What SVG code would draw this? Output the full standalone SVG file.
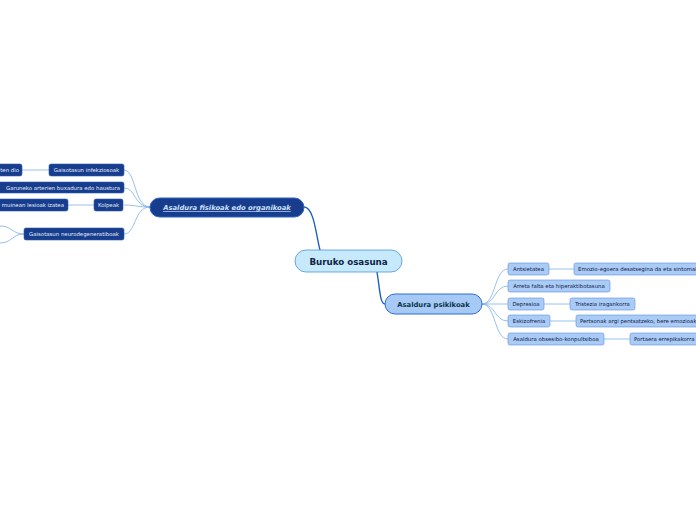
<svg xmlns="http://www.w3.org/2000/svg" width="696" height="520" viewBox="0 0 696 520">
<style>
text{font-family:"DejaVu Sans","Liberation Sans",sans-serif}
.c{fill:none;stroke:#7eb0e8;stroke-width:0.8}
.m{fill:none;stroke:#1f5fc4;stroke-width:1.4}
.dn rect{fill:#173d8c;stroke:#2a5bb5;stroke-width:0.6}
.dn text{fill:#e6eefc;font-size:5.4px}
.ln rect{fill:#a9cbf6;stroke:#5a92e2;stroke-width:0.6}
.ln text{fill:#10204a;font-size:5.4px}
</style>
<rect width="696" height="520" fill="#ffffff"/>
<g id="connectors">
<path class="m" d="M304,207 C314,207 316,235 320,250"/>
<path class="m" d="M377,272 C380,290 380,304 385,304"/>
<path class="c" d="M150,207 C134,207 136,170 124,170"/>
<path class="c" d="M150,207 C134,207 136,188 124,188"/>
<path class="c" d="M150,207 C138,207 134,205 124,205"/>
<path class="c" d="M150,207 C134,207 136,234 124,234"/>
<path class="c" d="M49,170 L22,170"/>
<path class="c" d="M94,205 L68,205"/>
<path class="c" d="M24,234 C12,234 12,226 0,226"/>
<path class="c" d="M24,234 C12,234 12,243 0,243"/>
<path class="c" d="M482,304 C496,304 494,269 508,269"/>
<path class="c" d="M482,304 C496,304 494,286 508,286"/>
<path class="c" d="M482,304 C494,304 496,304 508,304"/>
<path class="c" d="M482,304 C496,304 494,321 508,321"/>
<path class="c" d="M482,304 C496,304 494,339 508,339"/>
<path class="c" d="M549,269 L574,269"/>
<path class="c" d="M544,304 L570,304"/>
<path class="c" d="M550,321 L576,321"/>
<path class="c" d="M604,339 L630,339"/>
</g>
<g id="n-center">
<rect x="295" y="250" width="107" height="22" rx="11" fill="#c6eafc" stroke="#4a94dc" stroke-width="0.8"/>
<text x="348.5" y="264.5" text-anchor="middle" font-size="8.7" font-weight="bold" fill="#0e2346">Buruko osasuna</text>
</g>
<g id="n-fisikoak">
<rect x="150" y="198" width="154" height="19" rx="9.5" fill="#173d8c" stroke="#2d63c8" stroke-width="1"/>
<text x="227" y="210.2" text-anchor="middle" font-size="6.8" font-weight="bold" font-style="italic" text-decoration="underline" fill="#cfe0fb">Asaldura fisikoak edo organikoak</text>
</g>
<g id="n-psikikoak">
<rect x="385" y="294" width="97" height="20" rx="10" fill="#a7c9f6" stroke="#2a6dd9" stroke-width="1"/>
<text x="433.5" y="306.6" text-anchor="middle" font-size="6.8" font-weight="bold" fill="#0c3348">Asaldura psikikoak</text>
</g>
<g id="n-infekz" class="dn"><rect x="49" y="164" width="75" height="12" rx="2"/><text x="86.5" y="171.9" text-anchor="middle">Gaisotasun infekziosoak</text></g>
<g id="n-infekz-c" class="dn"><rect x="-20" y="164" width="42" height="12" rx="2"/><text x="19" y="171.9" text-anchor="end">ten dio</text></g>
<g id="n-garuneko" class="dn"><rect x="-4" y="182" width="128" height="11" rx="2"/><text x="120" y="189.5" text-anchor="end">Garuneko arterien buxadura edo haustura</text></g>
<g id="n-kolpeak" class="dn"><rect x="94" y="199" width="29" height="12" rx="2"/><text x="108.5" y="206.9" text-anchor="middle">Kolpeak</text></g>
<g id="n-kolpeak-c" class="dn"><rect x="-20" y="199" width="88" height="12" rx="2"/><text x="64" y="206.9" text-anchor="end">muinean lesioak izatea</text></g>
<g id="n-neuro" class="dn"><rect x="24" y="228" width="100" height="12" rx="2"/><text x="74" y="235.9" text-anchor="middle">Gaisotasun neurodegeneratiboak</text></g>
<g id="n-ants" class="ln"><rect x="508" y="263" width="41" height="12" rx="2"/><text x="528.5" y="270.9" text-anchor="middle">Antsietatea</text></g>
<g id="n-ants-c" class="ln"><rect x="574" y="263" width="135" height="12" rx="2"/><text x="578" y="270.9">Emozio-egoera desatsegina da eta sintomak</text></g>
<g id="n-arreta" class="ln"><rect x="508" y="280" width="102" height="12" rx="2"/><text x="559" y="287.9" text-anchor="middle">Arreta falta eta hiperaktibotasuna</text></g>
<g id="n-depr" class="ln"><rect x="508" y="298" width="36" height="12" rx="2"/><text x="526" y="305.9" text-anchor="middle">Depresioa</text></g>
<g id="n-depr-c" class="ln"><rect x="570" y="298" width="65" height="12" rx="2"/><text x="602.5" y="305.9" text-anchor="middle">Tristezia iragankorra</text></g>
<g id="n-eskiz" class="ln"><rect x="508" y="315" width="42" height="12" rx="2"/><text x="529" y="322.9" text-anchor="middle">Eskizofrenia</text></g>
<g id="n-eskiz-c" class="ln"><rect x="576" y="315" width="135" height="12" rx="2"/><text x="580" y="322.9">Pertsonak argi pentsatzeko, bere emozioak</text></g>
<g id="n-obses" class="ln"><rect x="508" y="333" width="96" height="12" rx="2"/><text x="556" y="340.9" text-anchor="middle">Asaldura obsesibo-konpultsiboa</text></g>
<g id="n-obses-c" class="ln"><rect x="630" y="333" width="80" height="12" rx="2"/><text x="634" y="340.9">Portaera errepikakorra</text></g>
</svg>
